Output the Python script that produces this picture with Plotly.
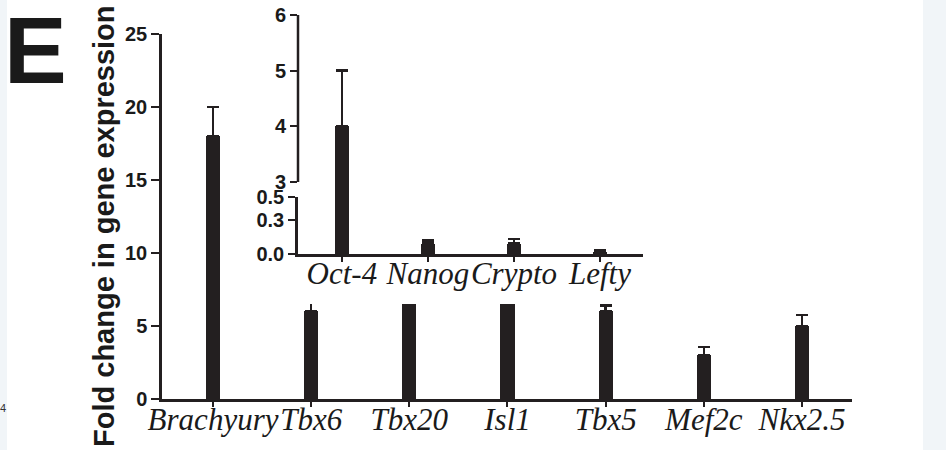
import plotly.graph_objects as go

# ---------------- data ----------------
main_genes = ["Brachyury", "Tbx6", "Tbx20", "Isl1", "Tbx5", "Mef2c", "Nkx2.5"]
main_values = [18.0, 6.0, 8.0, 7.5, 6.0, 3.0, 5.0]
main_errors = [2.0, 0.6, 1.0, 1.0, 0.4, 0.55, 0.75]
main_yticks = [0, 5, 10, 15, 20, 25]

inset_genes = ["Oct-4", "Nanog", "Crypto", "Lefty"]
inset_values = [4.0, 0.09, 0.09, 0.01]
inset_errors = [1.0, 0.03, 0.04, 0.02]
inset_low_ticks = [0.0, 0.3, 0.5]
inset_low_ticktext = ["0.0", "0.3", "0.5"]
inset_high_ticks = [3, 4, 5, 6]

W, H = 946, 450
def fx(px):
    return px / W
def fy(py):
    return (H - py) / H

BAR = "#231f20"
SANS = "Liberation Sans, Arial, sans-serif"
SERIF = "Liberation Serif, Times New Roman, serif"

fig = go.Figure()

# main chart
fig.add_trace(go.Bar(
    x=main_genes, y=main_values, width=0.143,
    marker=dict(color=BAR, line=dict(width=0)),
    error_y=dict(type="data", array=main_errors, arrayminus=[0] * len(main_errors),
                 symmetric=False, color=BAR, thickness=2.5, width=6),
    xaxis="x", yaxis="y", showlegend=False, hoverinfo="skip"))

# white cover panel for the inset (empty subplot)
fig.add_trace(go.Scatter(x=[], y=[], xaxis="x2", yaxis="y2", showlegend=False))

# inset lower segment
low_err = [0] + inset_errors[1:]
fig.add_trace(go.Bar(
    x=inset_genes, y=inset_values, width=0.163,
    marker=dict(color=BAR, line=dict(width=0)),
    error_y=dict(type="data", array=low_err, arrayminus=[0] * len(low_err),
                 symmetric=False, color=BAR, thickness=2.5, width=6),
    xaxis="x3", yaxis="y3", showlegend=False, hoverinfo="skip"))

# inset upper segment (only the tall bar reaches it)
fig.add_trace(go.Bar(
    x=inset_genes[:1], y=inset_values[:1], width=0.163,
    marker=dict(color=BAR, line=dict(width=0)),
    error_y=dict(type="data", array=inset_errors[:1], arrayminus=[0],
                 symmetric=False, color=BAR, thickness=2.5, width=6),
    xaxis="x4", yaxis="y4", showlegend=False, hoverinfo="skip"))

up_px_per_unit = (182 - 15) / 3
up_bottom_px = 199
up_lo = 3 - (up_bottom_px - 182) / up_px_per_unit

tick_font = dict(family=SANS, size=20, weight="bold", color="#1a1a1a")
cat_font = dict(family=SERIF, size=31, style="italic", color="#1a1a1a")

fig.update_layout(
    width=W, height=H,
    margin=dict(l=0, r=0, t=0, b=0, autoexpand=False),
    paper_bgcolor="white", plot_bgcolor="white",
    bargap=0,
    xaxis=dict(domain=[fx(162), fx(852)], range=[-0.52, 6.51], anchor="y", automargin=False,
               type="category", categoryorder="array", categoryarray=main_genes,
               showline=True, linecolor=BAR, linewidth=2.5, showgrid=False, zeroline=False,
               ticks="outside", ticklen=5, tickwidth=2, tickcolor=BAR, tickfont=cat_font,
               tickangle=0, ticklabelstandoff=-14),
    yaxis=dict(domain=[fy(399), fy(34)], range=[0, 25], anchor="x", automargin=False,
               tickvals=main_yticks, showline=True, linecolor=BAR, linewidth=2.5,
               showgrid=False, zeroline=False, ticks="outside", ticklen=8, tickwidth=2,
               tickcolor=BAR, tickfont=tick_font),
    xaxis2=dict(domain=[fx(252), fx(645)], anchor="y2", visible=False, range=[0, 1],
                automargin=False),
    yaxis2=dict(domain=[fy(304), fy(0)], anchor="x2", visible=False, range=[0, 1],
                automargin=False),
    xaxis3=dict(domain=[fx(298), fx(643)], range=[-0.51, 3.5], anchor="y3", automargin=False,
                type="category", categoryorder="array", categoryarray=inset_genes,
                showline=True, linecolor=BAR, linewidth=2.5, showgrid=False, zeroline=False,
                ticks="outside", ticklen=5, tickwidth=2, tickcolor=BAR, tickfont=cat_font,
                tickangle=0, ticklabelstandoff=-15),
    yaxis3=dict(domain=[fy(254), fy(197)], range=[0, 0.5], anchor="x3", automargin=False,
                tickvals=inset_low_ticks, ticktext=inset_low_ticktext,
                showline=True, linecolor=BAR, linewidth=2.5, showgrid=False, zeroline=False,
                ticks="outside", ticklen=7, tickwidth=2, tickcolor=BAR, tickfont=tick_font),
    xaxis4=dict(domain=[fx(298), fx(643)], range=[-0.51, 3.5], anchor="y4", automargin=False,
                type="category", categoryorder="array", categoryarray=inset_genes,
                showline=False, showticklabels=False, ticks="", showgrid=False, zeroline=False),
    yaxis4=dict(domain=[fy(up_bottom_px), fy(15)], range=[up_lo, 6], anchor="x4",
                automargin=False, tickvals=inset_high_ticks, showline=False, showgrid=False,
                zeroline=False, ticks="outside", ticklen=7, tickwidth=2, tickcolor=BAR,
                tickfont=tick_font),
    shapes=[
        dict(type="line", xref="x4 domain", yref="y4", x0=0, x1=0, y0=3, y1=6,
             line=dict(color=BAR, width=2.5)),
        dict(type="rect", xref="paper", yref="paper", x0=0, x1=fx(7), y0=0, y1=1,
             fillcolor="#f1f5f8", line=dict(width=0), layer="below"),
        dict(type="rect", xref="paper", yref="paper", x0=fx(923), x1=1, y0=0, y1=1,
             fillcolor="#f1f5f8", line=dict(width=0), layer="below"),
    ],
    annotations=[
        dict(text="E", xref="paper", yref="paper", x=fx(35), y=fy(50),
             xanchor="center", yanchor="middle", showarrow=False,
             font=dict(family=SANS, size=94, weight="bold", color="#1a1a1a")),
        dict(text="Fold change in gene expression", xref="paper", yref="paper",
             x=fx(104), y=fy(226), xanchor="center", yanchor="middle", showarrow=False,
             textangle=-90,
             font=dict(family=SANS, size=29, weight="bold", color="#1a1a1a")),
        dict(text="4", xref="paper", yref="paper", x=fx(3), y=fy(408),
             xanchor="center", yanchor="middle", showarrow=False,
             font=dict(family=SANS, size=11, color="#333333")),
    ],
)

fig.write_html("out.html", config={"displayModeBar": False},
               post_script="document.body.style.margin='0px';document.body.style.overflow='hidden';")
